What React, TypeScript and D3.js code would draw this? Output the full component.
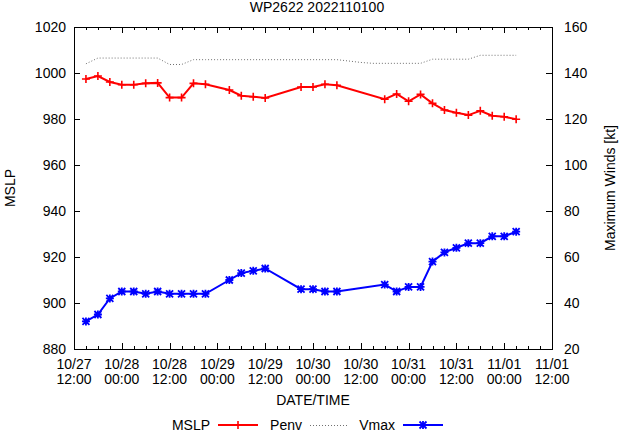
import { useEffect, useRef } from 'react'
import * as d3 from 'd3'

const TITLE = 'WP2622 2022110100'

// storm track times (UTC) for MSLP and Vmax
const TIMES = [
  '2022-10-27T15:00Z', '2022-10-27T18:00Z', '2022-10-27T21:00Z', '2022-10-28T00:00Z',
  '2022-10-28T03:00Z', '2022-10-28T06:00Z', '2022-10-28T09:00Z', '2022-10-28T12:00Z',
  '2022-10-28T15:00Z', '2022-10-28T18:00Z', '2022-10-28T21:00Z',
  '2022-10-29T03:00Z', '2022-10-29T06:00Z', '2022-10-29T09:00Z', '2022-10-29T12:00Z',
  '2022-10-29T21:00Z', '2022-10-30T00:00Z', '2022-10-30T03:00Z', '2022-10-30T06:00Z',
  '2022-10-30T18:00Z', '2022-10-30T21:00Z', '2022-10-31T00:00Z', '2022-10-31T03:00Z',
  '2022-10-31T06:00Z', '2022-10-31T09:00Z', '2022-10-31T12:00Z', '2022-10-31T15:00Z',
  '2022-10-31T18:00Z', '2022-10-31T21:00Z', '2022-11-01T00:00Z', '2022-11-01T03:00Z',
]

const MSLP = [
  997.4, 998.7, 996.1, 994.9, 994.9, 995.5, 995.7, 989.3, 989.3, 995.5, 995.1,
  992.6, 990.1, 989.7, 989.1,
  993.9, 993.9, 995.1, 994.7,
  988.6, 990.9, 987.7, 990.7, 986.8, 983.9, 982.7, 981.7, 983.6, 981.4, 981.0, 979.9,
]

const VMAX = [
  32, 35, 42, 45, 45, 44, 45, 44, 44, 44, 44,
  50, 53, 54, 55,
  46, 46, 45, 45,
  48, 45, 47, 47, 58, 62, 64, 66, 66, 69, 69, 71,
]

// environmental pressure, every 3 h
const PENV_TIMES = [
  '2022-10-27T15:00Z', '2022-10-27T18:00Z', '2022-10-27T21:00Z', '2022-10-28T00:00Z',
  '2022-10-28T03:00Z', '2022-10-28T06:00Z', '2022-10-28T09:00Z', '2022-10-28T12:00Z',
  '2022-10-28T15:00Z', '2022-10-28T18:00Z', '2022-10-28T21:00Z', '2022-10-29T00:00Z',
  '2022-10-29T03:00Z', '2022-10-29T06:00Z', '2022-10-29T09:00Z', '2022-10-29T12:00Z',
  '2022-10-29T15:00Z', '2022-10-29T18:00Z', '2022-10-29T21:00Z', '2022-10-30T00:00Z',
  '2022-10-30T03:00Z', '2022-10-30T06:00Z', '2022-10-30T09:00Z', '2022-10-30T12:00Z',
  '2022-10-30T15:00Z', '2022-10-30T18:00Z', '2022-10-30T21:00Z', '2022-10-31T00:00Z',
  '2022-10-31T03:00Z', '2022-10-31T06:00Z', '2022-10-31T09:00Z', '2022-10-31T12:00Z',
  '2022-10-31T15:00Z', '2022-10-31T18:00Z', '2022-10-31T21:00Z', '2022-11-01T00:00Z',
  '2022-11-01T03:00Z',
]

const PENV = [
  1004.0, 1006.5, 1006.5, 1006.5, 1006.5, 1006.5, 1006.5, 1003.7,
  1003.7, 1005.8, 1005.8, 1005.8, 1005.8, 1005.8, 1005.8, 1005.8,
  1005.8, 1005.8, 1005.8, 1005.8, 1005.8, 1005.8, 1005.2, 1004.6,
  1004.2, 1004.2, 1004.2, 1004.2, 1004.2, 1006.0, 1006.0, 1006.0,
  1006.0, 1007.7, 1007.7, 1007.7, 1007.7,
]

const X_DOMAIN = ['2022-10-27T12:00Z', '2022-11-01T12:00Z']
const Y_TICKS = [880, 900, 920, 940, 960, 980, 1000, 1020]
const Y2_TICKS = [20, 40, 60, 80, 100, 120, 140, 160]

const FONT = '"Liberation Sans", Arial, sans-serif'

export default function App() {
  const svgRef = useRef<SVGSVGElement>(null)

  useEffect(() => {
    document.body.style.margin = '0'
    if (!svgRef.current) return
    const svg = d3.select(svgRef.current)
    svg.selectAll('*').remove()

    const W = 619
    const H = 432
    const L = 74, R = 552, T = 27, B = 349

    svg.attr('width', W).attr('height', H)
      .attr('font-family', FONT).attr('font-size', 14)

    const x = d3.scaleUtc().domain(X_DOMAIN.map(s => new Date(s))).range([L, R])
    const y = d3.scaleLinear().domain([880, 1020]).range([B, T])
    const y2 = d3.scaleLinear().domain([20, 160]).range([B, T])

    // x ticks: major every 12 h, minor every 3 h, mirrored on top
    const major = d3.utcHour.every(12)!.range(x.domain()[0], new Date(+x.domain()[1] + 1))
    const minor = d3.utcHour.every(3)!.range(x.domain()[0], new Date(+x.domain()[1] + 1))
    const tk = svg.append('g').attr('stroke', '#000').attr('stroke-width', 1)
    minor.forEach(d => {
      const px = Math.round(x(d)) + 0.5
      tk.append('line').attr('x1', px).attr('x2', px).attr('y1', B).attr('y2', B - 3)
      tk.append('line').attr('x1', px).attr('x2', px).attr('y1', T).attr('y2', T + 3)
    })
    major.forEach(d => {
      const px = Math.round(x(d)) + 0.5
      tk.append('line').attr('x1', px).attr('x2', px).attr('y1', B).attr('y2', B - 6)
      tk.append('line').attr('x1', px).attr('x2', px).attr('y1', T).attr('y2', T + 6)
    })
    Y_TICKS.forEach(v => {
      const py = Math.round(y(v)) + 0.5
      tk.append('line').attr('x1', L).attr('x2', L + 6).attr('y1', py).attr('y2', py)
    })
    Y2_TICKS.forEach(v => {
      const py = Math.round(y2(v)) + 0.5
      tk.append('line').attr('x1', R).attr('x2', R - 6).attr('y1', py).attr('y2', py)
    })

    // tick labels, two lines each
    const fmtD = d3.utcFormat('%m/%d')
    const fmtH = d3.utcFormat('%H:%M')
    major.forEach(d => {
      svg.append('text').attr('x', x(d)).attr('y', 369)
        .attr('text-anchor', 'middle').text(fmtD(d))
      svg.append('text').attr('x', x(d)).attr('y', 384)
        .attr('text-anchor', 'middle').text(fmtH(d))
    })
    Y_TICKS.forEach(v => {
      svg.append('text').attr('x', 66).attr('y', y(v) + 5)
        .attr('text-anchor', 'end').text(v)
    })
    Y2_TICKS.forEach(v => {
      svg.append('text').attr('x', 564).attr('y', y2(v) + 5)
        .attr('text-anchor', 'start').text(v)
    })

    // border
    svg.append('rect').attr('x', L + 0.5).attr('y', T + 0.5)
      .attr('width', R - L).attr('height', B - T)
      .attr('fill', 'none').attr('stroke', '#000').attr('stroke-width', 1)

    // Penv dotted
    const penvPts: [Date, number][] = PENV_TIMES.map((s, i) => [new Date(s), PENV[i]])
    svg.append('path').datum(penvPts)
      .attr('fill', 'none').attr('stroke', '#707070').attr('stroke-width', 1)
      .attr('stroke-dasharray', '1,2')
      .attr('d', d3.line<[Date, number]>().x(d => x(d[0])).y(d => y(d[1])))

    const plus = (g: d3.Selection<SVGGElement, unknown, null, undefined>, cx: number, cy: number, col: string) => {
      g.append('path').attr('d', `M${cx - 4},${cy}H${cx + 4}M${cx},${cy - 4}V${cy + 4}`)
        .attr('stroke', col).attr('stroke-width', 1.6)
    }
    const star = (g: d3.Selection<SVGGElement, unknown, null, undefined>, cx: number, cy: number, col: string) => {
      g.append('path')
        .attr('d', `M${cx - 4},${cy}H${cx + 4}M${cx},${cy - 4}V${cy + 4}M${cx - 3.5},${cy - 3.5}L${cx + 3.5},${cy + 3.5}M${cx - 3.5},${cy + 3.5}L${cx + 3.5},${cy - 3.5}`)
        .attr('stroke', col).attr('stroke-width', 1.8)
    }

    // MSLP
    const mslpPts: [Date, number][] = TIMES.map((s, i) => [new Date(s), MSLP[i]])
    svg.append('path').datum(mslpPts)
      .attr('fill', 'none').attr('stroke', '#ff0000').attr('stroke-width', 2)
      .attr('d', d3.line<[Date, number]>().x(d => x(d[0])).y(d => y(d[1])))
    const gm = svg.append('g')
    mslpPts.forEach(d => plus(gm, x(d[0]), y(d[1]), '#ff0000'))

    // Vmax
    const vmaxPts: [Date, number][] = TIMES.map((s, i) => [new Date(s), VMAX[i]])
    svg.append('path').datum(vmaxPts)
      .attr('fill', 'none').attr('stroke', '#0000ff').attr('stroke-width', 2)
      .attr('d', d3.line<[Date, number]>().x(d => x(d[0])).y(d => y2(d[1])))
    const gv = svg.append('g')
    vmaxPts.forEach(d => star(gv, x(d[0]), y2(d[1]), '#0000ff'))

    // titles
    svg.append('text').attr('x', 317).attr('y', 12).attr('text-anchor', 'middle').text(TITLE)
    svg.append('text').attr('x', 313).attr('y', 405).attr('text-anchor', 'middle').text('DATE/TIME')
    svg.append('text').attr('transform', 'translate(15,188) rotate(-90)')
      .attr('text-anchor', 'middle').text('MSLP')
    svg.append('text').attr('transform', 'translate(615,188) rotate(-90)')
      .attr('text-anchor', 'middle').text('Maximum Winds [kt]')

    // legend
    const ly = 425
    const lg = svg.append('g')
    lg.append('text').attr('x', 210).attr('y', ly + 4.5).attr('text-anchor', 'end').text('MSLP')
    lg.append('line').attr('x1', 218).attr('x2', 258).attr('y1', ly).attr('y2', ly)
      .attr('stroke', '#ff0000').attr('stroke-width', 2)
    plus(lg, 238, ly, '#ff0000')
    lg.append('text').attr('x', 302).attr('y', ly + 4.5).attr('text-anchor', 'end').text('Penv')
    lg.append('line').attr('x1', 310).attr('x2', 347).attr('y1', ly + 0.5).attr('y2', ly + 0.5)
      .attr('stroke', '#707070').attr('stroke-width', 1).attr('stroke-dasharray', '1,2')
    lg.append('text').attr('x', 395).attr('y', ly + 4.5).attr('text-anchor', 'end').text('Vmax')
    lg.append('line').attr('x1', 403).attr('x2', 443).attr('y1', ly).attr('y2', ly)
      .attr('stroke', '#0000ff').attr('stroke-width', 2)
    star(lg, 423, ly, '#0000ff')
  }, [])

  return <svg ref={svgRef} style={{ display: 'block' }} />
}
